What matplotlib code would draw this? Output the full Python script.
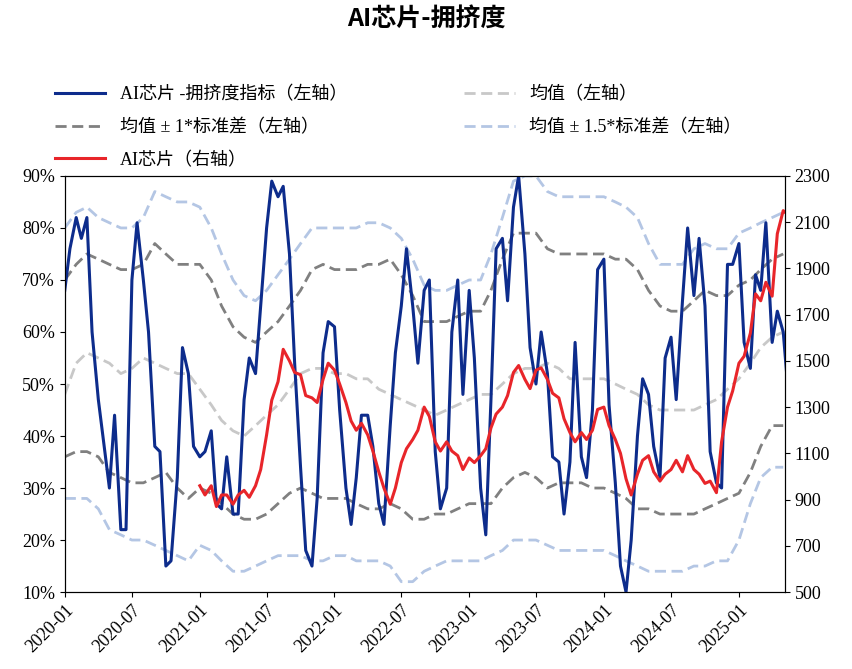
import numpy as np
import pandas as pd
import matplotlib
matplotlib.use("Agg")
import matplotlib.pyplot as plt
import matplotlib.dates as mdates
from matplotlib.ticker import FuncFormatter

plt.rcParams['font.family'] = ['Liberation Serif', 'Noto Sans CJK JP']

crowding = [68,76,82,78,82,60,47,39,30,44,22,22,70,81,70,60,38,37,15,16,32,57,52,38,36,37,41,27,26,36,
            25,25,47,55,52,65,80,89,86,88,75,54,34,18,15,28,56,62,61,45,30,23,32,44,44,38,27,23,42,56,
            65,76,65,54,68,70,37,26,30,60,70,48,68,55,30,21,47,76,78,66,84,90,75,57,50,60,52,36,35,25,
            35,58,36,32,45,72,74,46,31,15,10,20,40,51,48,38,32,55,59,47,66,80,67,78,65,37,31,30,73,73,
            77,58,53,71,68,81,58,64,60,48]
chip = [960,920,960,870,920,920,880,920,940,910,960,1030,1180,1330,1410,1550,1500,1450,1440,1350,
        1340,1320,1420,1490,1460,1400,1320,1240,1200,1230,1180,1110,1020,950,880,950,1060,1120,1160,1200,
        1300,1260,1150,1110,1150,1110,1090,1030,1080,1060,1090,1120,1210,1270,1300,1350,1450,1480,1420,1380,
        1460,1470,1420,1360,1340,1250,1190,1150,1190,1160,1200,1290,1300,1220,1160,1100,990,920,1010,1070,
        1090,1020,980,1010,1030,1070,1020,1090,1030,1010,970,980,930,1150,1300,1370,1490,1520,1620,1790,
        1760,1840,1780,2050,2150,2130]
mean = [48,54,56,55,54,52,53,55,54,53,52,52,49,46,43,41,40,42,44,46,49,52,53,53,52,52,51,51,49,48,
        47,46,45,44,45,46,47,48,48,50,52,53,53,54,53,51,51,51,51,50,49,48,46,45,45,45,45,46,47,49,
        51,54,57,59,60]
up1 = [70,73,75,74,73,72,72,73,77,75,73,73,73,70,65,61,59,58,60,62,65,68,72,73,72,72,72,73,73,
       74,71,67,62,62,62,63,64,64,68,74,79,79,79,76,75,75,75,75,75,74,74,72,68,65,64,64,66,68,67,67,69,70,72,74,75]
lo1 = [36,37,37,36,33,32,31,31,32,33,30,28,30,29,27,25,24,24,25,27,29,30,29,28,28,28,27,26,26,
       27,26,24,24,25,25,26,27,27,27,30,32,33,32,30,31,31,31,30,30,29,28,26,26,25,25,25,25,26,27,28,29,33,38,42,42]
up15 = [80,83,84,82,81,80,80,82,87,86,85,85,84,80,75,70,67,66,68,71,74,77,80,80,80,80,80,81,81,
        80,78,74,69,68,68,69,70,70,75,82,89,90,90,87,86,86,86,86,86,85,84,82,77,73,73,73,76,77,76,76,79,80,81,82,83]
lo15 = [28,28,28,26,22,21,20,20,19,18,17,16,19,18,16,14,14,15,16,17,17,17,16,16,17,17,16,16,16,
        15,12,12,14,15,16,16,16,16,17,18,20,20,20,19,18,18,18,18,18,17,16,15,14,14,14,14,15,15,16,16,20,27,32,34,34]

semi = pd.date_range('2020-01-01', periods=len(crowding), freq='SMS')
monthly = pd.date_range('2020-01-01', periods=len(mean), freq='MS')
chip_dates = semi[len(crowding) - len(chip):]

fig = plt.figure(figsize=(8.52, 6.69), dpi=100)
ax = fig.add_axes([0.076, 0.115, 0.845, 0.622])
ax2 = ax.twinx()

dash = (0, (4, 2))
l1, = ax.plot(semi, crowding, color='#0d2c8c', lw=2.2, zorder=5)
l2, = ax.plot(monthly, mean, color='#c8c8c8', lw=2, ls=dash)
l3, = ax.plot(monthly, up1, color='#808080', lw=2, ls=dash)
ax.plot(monthly, lo1, color='#808080', lw=2, ls=dash)
l4, = ax.plot(monthly, up15, color='#b4c6e4', lw=2, ls=dash)
ax.plot(monthly, lo15, color='#b4c6e4', lw=2, ls=dash)
l5, = ax2.plot(chip_dates, chip, color='#e8252a', lw=2.2)

ax.set_ylim(10, 90)
ax.set_yticks(range(10, 91, 10))
ax.yaxis.set_major_formatter(FuncFormatter(lambda v, p: f'{int(v)}%'))
ax2.set_ylim(500, 2300)
ax2.set_yticks(range(500, 2301, 200))
ax.set_xlim(pd.Timestamp('2020-01-01'), pd.Timestamp('2025-05-05'))
ax.set_xticks(pd.date_range('2020-01-01', '2025-01-01', freq='6MS'))
ax.xaxis.set_major_formatter(mdates.DateFormatter('%Y-%m'))
for lab in ax.get_xticklabels():
    lab.set_rotation(45); lab.set_ha('right'); lab.set_rotation_mode('anchor')
ax.tick_params(labelsize=13)
ax2.tick_params(labelsize=13)

fig.text(0.5, 0.972, 'AI芯片-拥挤度', ha='center', va='center', fontsize=18, fontweight='bold',
         family='Noto Sans CJK JP')
fig.legend([l1, l3, l5, l2, l4],
           ['AI芯片 -拥挤度指标（左轴）', '均值 ± 1*标准差（左轴）', 'AI芯片（右轴）',
            '均值（左轴）', '均值 ± 1.5*标准差（左轴）'],
           loc='upper left', bbox_to_anchor=(0.045, 0.895), ncol=2, frameon=False,
           fontsize=13, columnspacing=6.5, handlelength=2.8, labelspacing=0.85)
fig.savefig('out.png', dpi=100)
